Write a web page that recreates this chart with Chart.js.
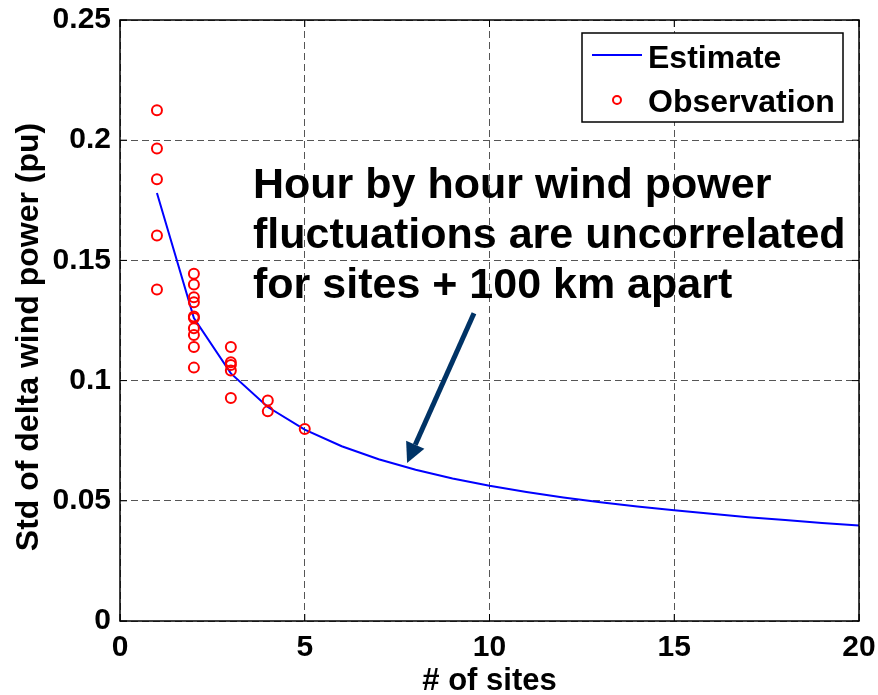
<!DOCTYPE html>
<html>
<head>
<meta charset="utf-8">
<script src="https://cdn.jsdelivr.net/npm/chart.js@4/dist/chart.umd.min.js"></script>
<style>
  html, body { margin: 0; padding: 0; background: #fff; }
  #wrap { width: 878px; height: 695px; position: relative; }
</style>
</head>
<body>
<div id="wrap"><canvas id="chart" width="878" height="695"></canvas></div>
<script>
const FONT = "'Liberation Sans', Arial, sans-serif";

// estimate curve
const estSites = [1, 2, 3, 4, 5, 6, 7, 8, 9, 10, 11, 12, 13, 14, 15, 16, 17, 18, 19, 20];
const estStd   = [0.178, 0.126, 0.103, 0.089, 0.0796, 0.0727, 0.0673, 0.0629, 0.0593, 0.0563,
                  0.0537, 0.0514, 0.0494, 0.0476, 0.0461, 0.0446, 0.0432, 0.0420, 0.0408, 0.0397];

// observations
const obsSites = [1, 1, 1, 1, 1,
                  2, 2, 2, 2, 2, 2, 2, 2, 2, 2,
                  3, 3, 3, 3, 3,
                  4, 4,
                  5];
const obsStd   = [0.2125, 0.1965, 0.1838, 0.1604, 0.1379,
                  0.1444, 0.1400, 0.1347, 0.1326, 0.1267, 0.1260, 0.1218, 0.1190, 0.1140, 0.1054,
                  0.1140, 0.1076, 0.1065, 0.1042, 0.0928,
                  0.0917, 0.0872,
                  0.0799];

const xTicks = [0, 5, 10, 15, 20];
const yTicks = [0, 0.05, 0.1, 0.15, 0.2, 0.25];

const yTitle = 'Std of delta wind power (pu)';
const noteLines = ['Hour by hour wind power', 'fluctuations are uncorrelated', 'for sites + 100 km apart'];
const noteAt = { x: 3.6, y: 0.176 };
const arrowFrom = { x: 9.58, y: 0.128 };
const arrowTo   = { x: 7.77, y: 0.0657 };

const framePlugin = {
  id: 'frame',
  afterDraw(chart) {
    const { ctx, chartArea: a, scales: { x, y } } = chart;
    ctx.save();
    // inner ticks
    ctx.strokeStyle = '#000';
    ctx.lineWidth = 1;
    xTicks.forEach((v) => {
      const px = x.getPixelForValue(v);
      ctx.beginPath();
      ctx.moveTo(px, a.bottom); ctx.lineTo(px, a.bottom - 7);
      ctx.moveTo(px, a.top); ctx.lineTo(px, a.top + 7);
      ctx.stroke();
    });
    yTicks.forEach((v) => {
      const py = y.getPixelForValue(v);
      ctx.beginPath();
      ctx.moveTo(a.left, py); ctx.lineTo(a.left + 7, py);
      ctx.moveTo(a.right, py); ctx.lineTo(a.right - 7, py);
      ctx.stroke();
    });
    ctx.lineWidth = 1.5;
    ctx.strokeRect(a.left, a.top, a.right - a.left, a.bottom - a.top);

    // y axis title
    ctx.save();
    ctx.translate(38, 337);
    ctx.rotate(-Math.PI / 2);
    ctx.fillStyle = '#000';
    ctx.font = 'bold 32px ' + FONT;
    ctx.textAlign = 'center';
    ctx.textBaseline = 'alphabetic';
    ctx.fillText(yTitle, 0, 0);
    ctx.restore();

    // annotation text
    ctx.fillStyle = '#000';
    ctx.font = 'bold 43px ' + FONT;
    ctx.textBaseline = 'alphabetic';
    ctx.textAlign = 'left';
    const tx = x.getPixelForValue(noteAt.x);
    const ty = y.getPixelForValue(noteAt.y);
    noteLines.forEach((t, i) => ctx.fillText(t, tx, ty + i * 50));

    // arrow
    const x1 = x.getPixelForValue(arrowFrom.x), y1 = y.getPixelForValue(arrowFrom.y);
    const x2 = x.getPixelForValue(arrowTo.x), y2 = y.getPixelForValue(arrowTo.y);
    const ang = Math.atan2(y2 - y1, x2 - x1);
    const head = 20, hw = 10;
    const bx = x2 - head * Math.cos(ang), by = y2 - head * Math.sin(ang);
    ctx.strokeStyle = '#003366';
    ctx.fillStyle = '#003366';
    ctx.lineWidth = 5;
    ctx.beginPath();
    ctx.moveTo(x1, y1); ctx.lineTo(bx, by);
    ctx.stroke();
    ctx.beginPath();
    ctx.moveTo(x2, y2);
    ctx.lineTo(bx + hw * Math.sin(ang), by - hw * Math.cos(ang));
    ctx.lineTo(bx - hw * Math.sin(ang), by + hw * Math.cos(ang));
    ctx.closePath();
    ctx.fill();

    // legend box
    const lx = 582, ly = 33, lw = 261, lh = 89;
    ctx.fillStyle = '#fff';
    ctx.fillRect(lx, ly, lw, lh);
    ctx.strokeStyle = '#000';
    ctx.lineWidth = 1.5;
    ctx.strokeRect(lx, ly, lw, lh);
    const ds = chart.data.datasets;
    ctx.strokeStyle = ds[0].borderColor;
    ctx.lineWidth = 2;
    ctx.beginPath();
    ctx.moveTo(lx + 10, ly + 22); ctx.lineTo(lx + 60, ly + 22);
    ctx.stroke();
    ctx.strokeStyle = ds[1].borderColor;
    ctx.lineWidth = 2;
    ctx.beginPath();
    ctx.arc(lx + 35, ly + 67, 4, 0, Math.PI * 2);
    ctx.stroke();
    ctx.fillStyle = '#000';
    ctx.font = 'bold 32px ' + FONT;
    ctx.fillText(ds[0].label, lx + 66, ly + 35);
    ctx.fillText(ds[1].label, lx + 66, ly + 79);
    ctx.restore();
  }
};

new Chart(document.getElementById('chart'), {
  type: 'scatter',
  data: {
    datasets: [
      {
        label: 'Estimate',
        data: estSites.map((s, i) => ({ x: s, y: estStd[i] })),
        showLine: true,
        borderColor: '#0000ff',
        borderWidth: 2,
        pointRadius: 0,
        tension: 0,
        order: 1,
      },
      {
        label: 'Observation',
        data: obsSites.map((s, i) => ({ x: s, y: obsStd[i] })),
        showLine: false,
        borderColor: '#ff0000',
        backgroundColor: 'rgba(0,0,0,0)',
        borderWidth: 2,
        pointRadius: 5,
        order: 0,
      },
    ],
  },
  options: {
    responsive: false,
    animation: false,
    layout: { padding: { top: 20, right: 19, left: 0, bottom: 0 } },
    plugins: { legend: { display: false }, tooltip: { enabled: false } },
    scales: {
      x: {
        type: 'linear', min: 0, max: 20,
        afterBuildTicks: (s) => { s.ticks = xTicks.map((v) => ({ value: v })); },
        afterFit: (s) => { s.height = 74; s.paddingLeft = 0; s.paddingRight = 0; },
        grid: { color: '#555', lineWidth: 1, drawTicks: false },
        border: { display: false, dash: [7, 4] },
        ticks: { color: '#000', font: { family: FONT, size: 30, weight: 'bold' }, padding: 9, maxRotation: 0 },
        title: { display: true, text: '# of sites', color: '#000', font: { family: FONT, size: 31, weight: 'bold', lineHeight: 0.85 }, padding: 0 },
      },
      y: {
        type: 'linear', min: 0, max: 0.25,
        afterBuildTicks: (s) => { s.ticks = yTicks.map((v) => ({ value: v })); },
        afterFit: (s) => { s.width = 120; s.paddingTop = 0; s.paddingBottom = 0; },
        grid: { color: '#555', lineWidth: 1, drawTicks: false },
        border: { display: false, dash: [7, 4] },
        ticks: { color: '#000', font: { family: FONT, size: 30, weight: 'bold' }, padding: 9, callback: (v) => String(v) },
        title: { display: false },
      },
    },
  },
  plugins: [framePlugin],
});
</script>
</body>
</html>
